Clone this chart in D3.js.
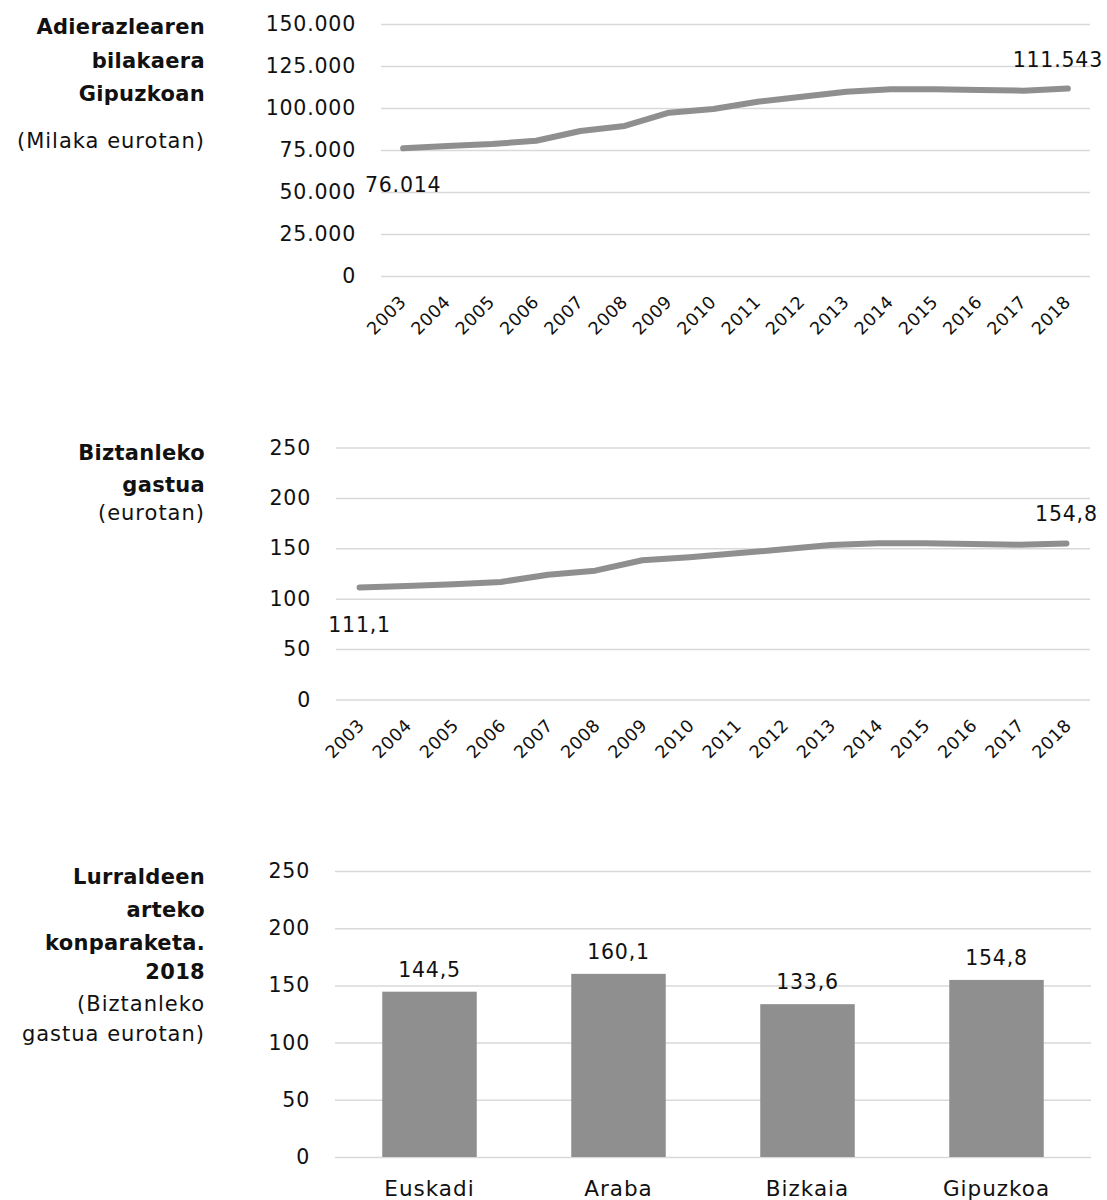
<!DOCTYPE html>
<html>
<head>
<meta charset="utf-8">
<script src="https://cdn.jsdelivr.net/npm/d3@7"></script>
<style>
  body { margin: 0; background: #fff; }
  text { font-family: "DejaVu Sans", sans-serif; fill: #111; }
</style>
</head>
<body>
<div id="chart"></div>
<script>
// Years for the two line charts
const years = ["2003", "2004", "2005", "2006", "2007", "2008", "2009", "2010",
  "2011", "2012", "2013", "2014", "2015", "2016", "2017", "2018"];

// Total spend in Gipuzkoa (thousands of euros)
const totalSpend = [76014, 77400, 78600, 80500, 86300, 89300, 97200, 99400,
  103700, 106700, 109700, 111100, 111100, 110700, 110300, 111543];

// Spend per inhabitant (euros)
const perCapita = [111.1, 112.6, 114.3, 116.6, 123.8, 127.8, 138.1, 141.1,
  145.0, 149.0, 153.3, 155.0, 155.0, 154.3, 153.6, 154.8];

// Territory comparison, 2018
const territories = ["Euskadi", "Araba", "Bizkaia", "Gipuzkoa"];
const territoryValues = [144.5, 160.1, 133.6, 154.8];

// Tick values
const ticksTotal = [0, 25000, 50000, 75000, 100000, 125000, 150000];
const ticksPerCapita = [0, 50, 100, 150, 200, 250];

// Basque number format: "." thousands, "," decimals
const locale = d3.formatLocale({ decimal: ",", thousands: ".", grouping: [3], currency: ["", " €"] });
const fmtInt = locale.format(",.0f");
const fmtDec = locale.format(",.1f");

const gray = "#8f8f8f";
const gridColor = "#d9d9d9";
const numSize = "20.5px";
const numSpacing = "0.8px";
const rightLimit = 1103; // keep labels inside the page

const svg = d3.select("#chart").append("svg")
  .attr("width", 1107)
  .attr("height", 1200);

// Titles on the left, right-aligned
function addTitle(lines, x) {
  const g = svg.append("g");
  lines.forEach((l) => {
    g.append("text")
      .attr("x", x)
      .attr("y", l.y)
      .attr("text-anchor", "end")
      .attr("font-size", "21px")
      .attr("letter-spacing", l.bold ? "0.3px" : "1px")
      .attr("font-weight", l.bold ? "bold" : "normal")
      .text(l.t);
  });
}

addTitle([
  { t: "Adierazlearen", y: 34, bold: true },
  { t: "bilakaera", y: 68, bold: true },
  { t: "Gipuzkoan", y: 101, bold: true },
  { t: "(Milaka eurotan)", y: 148 }
], 205);

addTitle([
  { t: "Biztanleko", y: 460, bold: true },
  { t: "gastua", y: 492, bold: true },
  { t: "(eurotan)", y: 520 }
], 205);

addTitle([
  { t: "Lurraldeen", y: 884, bold: true },
  { t: "arteko", y: 917, bold: true },
  { t: "konparaketa.", y: 950, bold: true },
  { t: "2018", y: 979, bold: true },
  { t: "(Biztanleko", y: 1011 },
  { t: "gastua eurotan)", y: 1041 }
], 205);

// Grid + y labels
function drawYAxis(y, ticks, x0, x1, fmt) {
  const g = svg.append("g")
    .attr("transform", "translate(" + x0 + ",0)")
    .call(d3.axisLeft(y).tickValues(ticks).tickSize(-(x1 - x0)).tickPadding(25).tickFormat(fmt));
  g.select(".domain").remove();
  g.selectAll("line").attr("stroke", gridColor).attr("stroke-width", 1.5);
  g.selectAll("text")
    .attr("font-size", numSize)
    .attr("letter-spacing", numSpacing)
    .attr("font-family", "DejaVu Sans, sans-serif")
    .attr("fill", "#111");
}

// Centered label, pushed left if it would run off the page
function valueLabel(cx, cy, txt) {
  const t = svg.append("text")
    .attr("x", cx)
    .attr("y", cy)
    .attr("text-anchor", "middle")
    .attr("font-size", numSize)
    .attr("letter-spacing", numSpacing)
    .text(txt);
  const w = t.node().getComputedTextLength();
  if (cx + w / 2 > rightLimit) {
    t.attr("text-anchor", "end").attr("x", rightLimit);
  }
  return t;
}

// Line chart with first/last data labels
function lineChart(values, opts) {
  const x = d3.scaleBand().domain(years).range([opts.x0, opts.x1]);
  const y = d3.scaleLinear().domain([0, opts.max]).range([opts.yBottom, opts.yTop]);

  drawYAxis(y, opts.ticks, opts.x0, opts.x1, opts.fmt);

  // x axis labels rotated
  const xg = svg.append("g")
    .attr("transform", "translate(0," + opts.yBottom + ")")
    .call(d3.axisBottom(x).tickSize(0).tickPadding(0));
  xg.select(".domain").remove();
  xg.selectAll("text")
    .attr("font-size", "17.5px")
    .attr("letter-spacing", "0.5px")
    .attr("font-family", "DejaVu Sans, sans-serif")
    .attr("fill", "#111")
    .attr("text-anchor", "end")
    .attr("dy", 0)
    .attr("transform", "translate(" + opts.lx + "," + opts.ly + ") rotate(-45)");

  const line = d3.line()
    .x((d, i) => x(years[i]) + x.bandwidth() / 2)
    .y((d) => y(d));

  svg.append("path")
    .datum(values)
    .attr("d", line)
    .attr("fill", "none")
    .attr("stroke", gray)
    .attr("stroke-width", 6)
    .attr("stroke-linecap", "round")
    .attr("stroke-linejoin", "round");

  const n = values.length - 1;
  valueLabel(x(years[0]) + x.bandwidth() / 2, y(values[0]) + opts.firstDy, opts.label(values[0]));
  valueLabel(x(years[n]) + x.bandwidth() / 2, y(values[n]) - opts.lastDy, opts.label(values[n]));
}

lineChart(totalSpend, {
  x0: 381, x1: 1090, yTop: 24, yBottom: 276, max: 150000,
  ticks: ticksTotal, fmt: fmtInt, label: fmtInt,
  lx: 4, ly: 27, firstDy: 44, lastDy: 22
});

lineChart(perCapita, {
  x0: 336, x1: 1090, yTop: 447.5, yBottom: 699.5, max: 250,
  ticks: ticksPerCapita, fmt: fmtInt, label: fmtDec,
  lx: 6, ly: 27, firstDy: 44, lastDy: 22
});

// Bar chart
const xb = d3.scaleBand().domain(territories).range([335, 1091]).paddingInner(0.5).paddingOuter(0.25);
const yb = d3.scaleLinear().domain([0, 250]).range([1157, 871]);

drawYAxis(yb, ticksPerCapita, 335, 1091, fmtInt);

svg.selectAll(".bar")
  .data(territoryValues)
  .enter()
  .append("rect")
  .attr("class", "bar")
  .attr("x", (d, i) => xb(territories[i]))
  .attr("y", (d) => yb(d))
  .attr("width", xb.bandwidth())
  .attr("height", (d) => yb(0) - yb(d))
  .attr("fill", gray);

svg.selectAll(".barlabel")
  .data(territoryValues)
  .enter()
  .append("text")
  .attr("class", "barlabel")
  .attr("x", (d, i) => xb(territories[i]) + xb.bandwidth() / 2)
  .attr("y", (d) => yb(d) - 15)
  .attr("text-anchor", "middle")
  .attr("font-size", numSize)
  .attr("letter-spacing", numSpacing)
  .text((d) => fmtDec(d));

const xbg = svg.append("g")
  .attr("transform", "translate(0,1157)")
  .call(d3.axisBottom(xb).tickSize(0).tickPadding(0));
xbg.select(".domain").remove();
xbg.selectAll("text")
  .attr("font-size", "21.5px")
  .attr("letter-spacing", "1px")
  .attr("font-family", "DejaVu Sans, sans-serif")
  .attr("fill", "#111")
  .attr("dy", 0)
  .attr("y", 39);
</script>
</body>
</html>
